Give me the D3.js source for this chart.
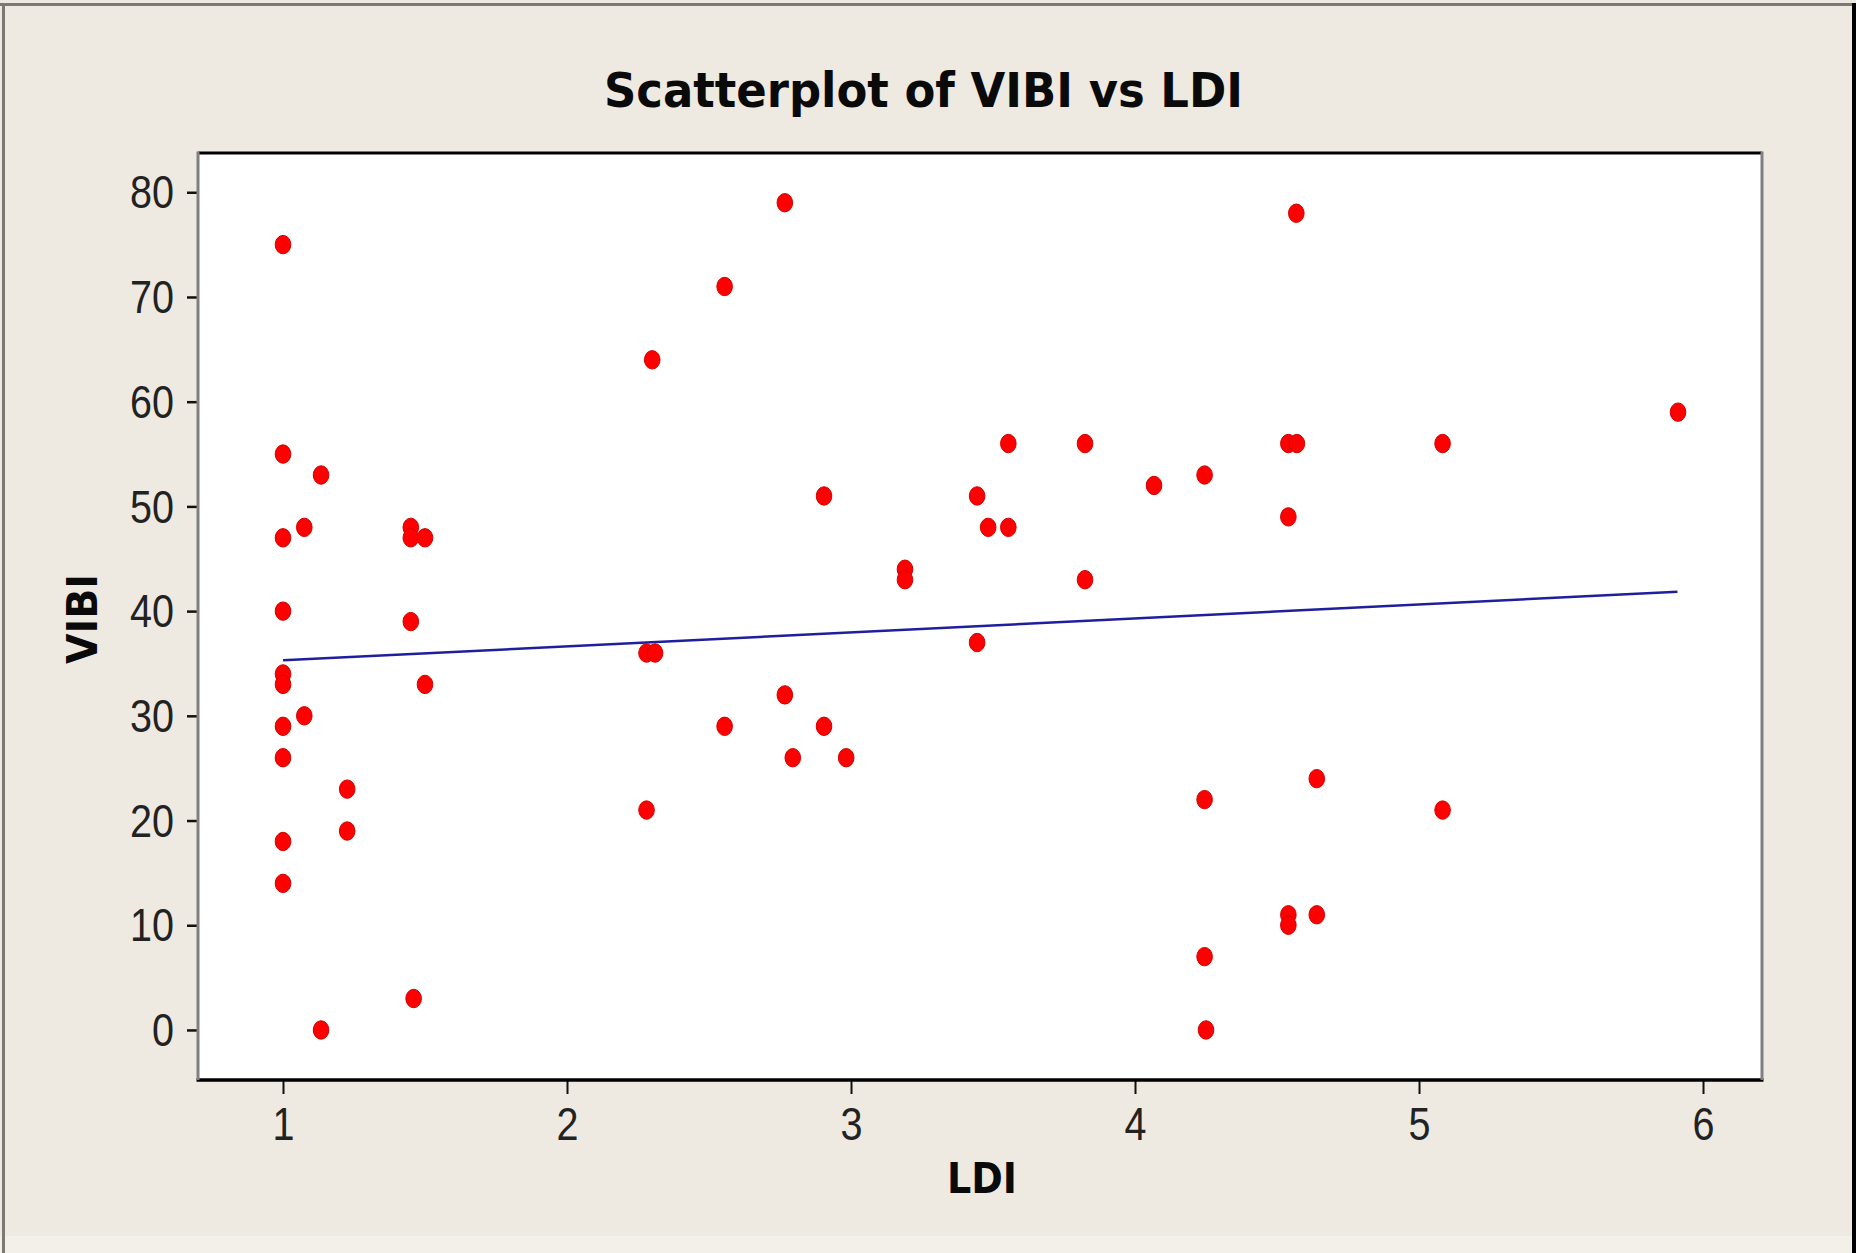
<!DOCTYPE html>
<html>
<head>
<meta charset="utf-8">
<script src="https://cdn.jsdelivr.net/npm/d3@7"></script>
<style>
  body { margin: 0; background: #fff; }
  svg { display: block; }
</style>
</head>
<body>
<svg id="chart" width="1865" height="1253"></svg>
<script>
// LDI (x) and VIBI (y) for each site
var ldi = [1, 1, 1, 1, 1, 1, 1, 1, 1, 1,
  1.075, 1.075, 1.134, 1.134, 1.226, 1.226,
  1.45, 1.45, 1.5, 1.45, 1.5, 1.46,
  2.30, 2.28, 2.31, 2.28, 2.555, 2.555, 2.767, 2.767, 2.795,
  2.905, 2.905, 2.983, 3.19, 3.19, 3.444, 3.444, 3.483,
  3.554, 3.554, 3.824, 3.824, 4.067, 4.245, 4.245, 4.245, 4.25,
  4.54, 4.57, 4.54, 4.54, 4.54, 4.568, 4.64, 4.64,
  5.083, 5.083, 5.912];
var vibi = [75, 55, 47, 40, 34, 33, 29, 26, 18, 14,
  48, 30, 53, 0, 23, 19,
  48, 47, 47, 39, 33, 3,
  64, 36, 36, 21, 71, 29, 79, 32, 26,
  51, 29, 26, 44, 43, 51, 37, 48,
  56, 48, 56, 43, 52, 53, 22, 7, 0,
  56, 56, 49, 11, 10, 78, 24, 11,
  56, 21, 59];

var xTicks = [1, 2, 3, 4, 5, 6];
var yTicks = [0, 10, 20, 30, 40, 50, 60, 70, 80];

// fitted regression line, end points as drawn
var fitLdi = [1, 5.91];
var fitVibi = [35.3, 41.85];

var W = 1865, H = 1253,
    plotL = 198, plotT = 153, plotR = 1762, plotB = 1080;

var svg = d3.select("#chart");

// window background and borders
svg.append("rect").attr("x", 0).attr("y", 0).attr("width", 1856).attr("height", H).attr("fill", "#eeeae1");
svg.append("rect").attr("x", 0).attr("y", 1236).attr("width", 1852).attr("height", 17).attr("fill", "#f3f0e9");
svg.append("line").attr("x1", 0).attr("x2", 1856).attr("y1", 4.5).attr("y2", 4.5)
  .attr("stroke", "#7d7873").attr("stroke-width", 3);
svg.append("line").attr("x1", 3.5).attr("x2", 3.5).attr("y1", 3).attr("y2", H)
  .attr("stroke", "#7d7873").attr("stroke-width", 3);
svg.append("line").attr("x1", 1854).attr("x2", 1854).attr("y1", 3).attr("y2", H)
  .attr("stroke", "#000").attr("stroke-width", 4);

var x = d3.scaleLinear().domain([0.7007, 6.2077]).range([plotL, plotR]);
var y = d3.scaleLinear().domain([-4.78, 83.75]).range([plotB, plotT]);

svg.append("rect").attr("x", plotL).attr("y", plotT)
  .attr("width", plotR - plotL).attr("height", plotB - plotT).attr("fill", "#fff");

// axes
var xAxis = svg.append("g").attr("transform", "translate(0," + plotB + ")")
  .call(d3.axisBottom(x).tickValues(xTicks).tickSize(14).tickFormat(d3.format("d")));
var yAxis = svg.append("g").attr("transform", "translate(" + plotL + ",0)")
  .call(d3.axisLeft(y).tickValues(yTicks).tickSize(11).tickPadding(13).tickFormat(d3.format("d")));

[xAxis, yAxis].forEach(function(g) {
  g.select(".domain").remove();
  g.selectAll("line").attr("stroke", "#111");
  g.selectAll("text")
    .attr("font-family", "'Liberation Sans', Arial, sans-serif")
    .attr("font-size", 46)
    .attr("fill", "#222")
    .attr("textLength", function(d) { return 22 * String(d).length; })
    .attr("lengthAdjust", "spacingAndGlyphs");
});
xAxis.selectAll("line").attr("stroke-width", 2);
xAxis.selectAll("text").attr("y", 60).attr("dy", 0);
yAxis.selectAll("line").attr("stroke-width", 2.5);
yAxis.selectAll("text").attr("dy", "0.34em");

// frame: top/bottom black, sides gray
svg.append("line").attr("x1", plotL).attr("x2", plotR).attr("y1", plotT).attr("y2", plotT)
  .attr("stroke", "#000").attr("stroke-width", 3);
svg.append("line").attr("x1", plotL - 1.5).attr("x2", plotR + 1.5).attr("y1", plotB).attr("y2", plotB)
  .attr("stroke", "#000").attr("stroke-width", 3.5);
svg.append("line").attr("x1", plotL).attr("x2", plotL).attr("y1", plotT - 1.5).attr("y2", plotB)
  .attr("stroke", "#808080").attr("stroke-width", 3);
svg.append("line").attr("x1", plotR).attr("x2", plotR).attr("y1", plotT - 1.5).attr("y2", plotB)
  .attr("stroke", "#808080").attr("stroke-width", 3);

// regression line
var line = d3.line().x(function(d) { return x(d[0]); }).y(function(d) { return y(d[1]); });
svg.append("path").datum(d3.zip(fitLdi, fitVibi))
  .attr("d", line).attr("fill", "none")
  .attr("stroke", "#1f1f9e").attr("stroke-width", 2.5);

// points
svg.append("g").selectAll("ellipse")
  .data(d3.zip(ldi, vibi))
  .join("ellipse")
  .attr("cx", function(d) { return x(d[0]); })
  .attr("cy", function(d) { return y(d[1]); })
  .attr("rx", 7.8).attr("ry", 9.2)
  .attr("fill", "#ff0000").attr("stroke", "#d40000").attr("stroke-width", 1);

// titles
svg.append("text").attr("x", 604).attr("y", 107)
  .attr("font-family", "'DejaVu Sans', Verdana, sans-serif").attr("font-weight", "bold")
  .attr("font-size", 48).attr("fill", "#0a0a0a")
  .attr("textLength", 639).attr("lengthAdjust", "spacingAndGlyphs")
  .text("Scatterplot of VIBI vs LDI");

svg.append("text").attr("x", 982).attr("y", 1193).attr("text-anchor", "middle")
  .attr("font-family", "'DejaVu Sans', Verdana, sans-serif").attr("font-weight", "bold")
  .attr("font-size", 43).attr("fill", "#0a0a0a")
  .attr("textLength", 70).attr("lengthAdjust", "spacingAndGlyphs")
  .text("LDI");

svg.append("text").attr("transform", "translate(97,619) rotate(-90)").attr("text-anchor", "middle")
  .attr("font-family", "'DejaVu Sans', Verdana, sans-serif").attr("font-weight", "bold")
  .attr("font-size", 43).attr("fill", "#0a0a0a")
  .attr("textLength", 90).attr("lengthAdjust", "spacingAndGlyphs")
  .text("VIBI");
</script>
</body>
</html>
